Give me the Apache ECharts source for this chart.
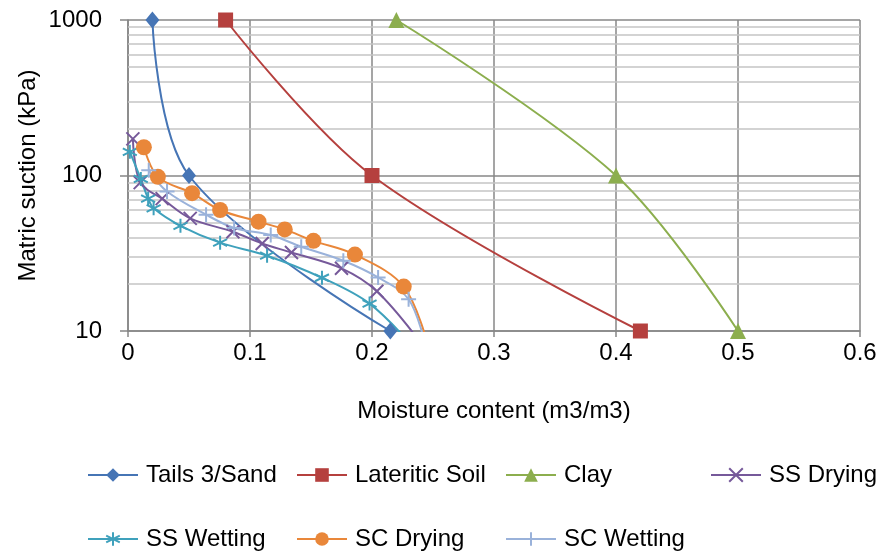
<!DOCTYPE html>
<html><head><meta charset="utf-8">
<script src="https://cdn.jsdelivr.net/npm/echarts@6/dist/echarts.min.js"></script>
<style>html,body{margin:0;padding:0;background:#fff}#c{width:881px;height:559px}</style>
</head><body><div id="c"></div><script>
// ---- data ----
const tails = [[0.02,1000],[0.05,100],[0.215,10]];
const lateritic = [[0.08,1000],[0.2,100],[0.42,10]];
const clay = [[0.22,1000],[0.4,100],[0.5,10]];
const ssDrying = [[0.004,172],[0.01,90],[0.028,71],[0.051,53],[0.086,43.5],[0.11,36.5],[0.134,32],[0.175,25.3],[0.204,18],[0.242,8]];
const ssWetting = [[0.0015,142],[0.0105,95],[0.0165,71],[0.021,61.5],[0.043,47.5],[0.0755,37],[0.114,30.5],[0.159,22],[0.198,15],[0.233,8]];
const scDrying = [[0.013,152],[0.0245,98],[0.0525,77],[0.0755,60],[0.107,50.5],[0.1285,45],[0.152,38],[0.186,31],[0.226,19.3],[0.246,8]];
const scWetting = [[0.017,108],[0.032,79],[0.064,56],[0.087,46],[0.117,41.4],[0.142,34.8],[0.1765,28.3],[0.205,22.1],[0.23,16],[0.244,8]];
const seriesNames = ['Tails 3/Sand','Lateritic Soil','Clay','SS Drying','SS Wetting','SC Drying','SC Wetting'];
const minorGridValues = [20,30,40,50,60,70,80,90,200,300,400,500,600,700,800,900];
const xMin = 0, xMax = 0.6, xStep = 0.1;
const yMin = 10, yMax = 1000;

// ---- styling ----
const FONT = '"Liberation Sans",Arial,sans-serif';
const FS = 24;
const colors = ['#4675B5','#B5403E','#8CAE4E','#76599A','#3FA1BC','#E9873A','#9AB2DA'];
const XPATH = 'path://M0,0L10,10M0,10L10,0';
const PLUS = 'path://M5,0L5,10M0,5L10,5';
const STAR = 'path://M5,0L5,10M0.67,2.5L9.33,7.5M0.67,7.5L9.33,2.5';
const datasets = [tails,lateritic,clay,ssDrying,ssWetting,scDrying,scWetting];
const symbols = ['diamond','rect','triangle',XPATH,STAR,'circle',PLUS];
const sizes = [[14,17],15,16,13,14,16,15];
const stroked = [false,false,false,true,true,false,true];

const series = datasets.map((d,i)=>({
  name: seriesNames[i], type:'line', data:d, smooth:0.35, z:3,
  symbol: symbols[i], symbolSize: sizes[i], showAllSymbol:true, clip:true,
  lineStyle:{color:colors[i], width:2},
  itemStyle: stroked[i] ? {color:colors[i], borderColor:colors[i], borderWidth:2} : {color:colors[i], borderWidth:0},
  emphasis:{disabled:true}, animation:false
}));
series.unshift({
  name:'_grid', type:'line', data:[], silent:true, z:1, animation:false,
  markLine:{silent:true, z:1, symbol:['none','none'], label:{show:false}, animation:false,
    lineStyle:{type:'solid', color:'#C4C4C4', width:1.5},
    data: minorGridValues.map(v=>({yAxis:v}))}
});

const legendPos = [[82,458],[291,458],[500,458],[705,458],[82,522],[291,522],[500,522]];
const legends = seriesNames.map((n,i)=>({
  data:[n], left:legendPos[i][0], top:legendPos[i][1], itemWidth:50, itemHeight:17, itemGap:0,
  textStyle:{fontFamily:FONT, fontSize:FS, color:'#000', padding:[0,0,0,3]}
}));

const chart = echarts.init(document.getElementById('c'), null, {renderer:'canvas'});
chart.setOption({
  animation:false,
  color: colors,
  grid:{left:128, right:21, top:20, bottom:228, containLabel:false, outerBoundsMode:'none'},
  legend: legends,
  xAxis:{type:'value', min:xMin, max:xMax, interval:xStep,
    name:'Moisture content (m3/m3)', nameLocation:'middle', nameGap:68, nameMoveOverlap:false,
    nameTextStyle:{fontFamily:FONT, fontSize:FS, color:'#000'},
    axisLine:{show:true, lineStyle:{color:'#868686', width:1.5}},
    axisTick:{show:true, length:6, lineStyle:{color:'#868686', width:1.5}},
    axisLabel:{margin:10, fontFamily:FONT, fontSize:FS, color:'#000', formatter:v=> v===0?'0':v.toFixed(1)},
    splitLine:{show:true, lineStyle:{color:'#878787', width:1.5}}
  },
  yAxis:{type:'log', logBase:10, min:yMin, max:yMax,
    name:'Matric suction (kPa)', nameLocation:'middle', nameGap:88, nameMoveOverlap:false,
    nameTextStyle:{fontFamily:FONT, fontSize:FS, color:'#000'},
    axisLine:{show:true, lineStyle:{color:'#868686', width:1.5}},
    axisTick:{show:true, length:8, lineStyle:{color:'#868686', width:1.5}},
    axisLabel:{margin:26, fontFamily:FONT, fontSize:FS, color:'#000', formatter:v=>String(Math.round(v))},
    splitLine:{show:true, lineStyle:{color:'#878787', width:1.5}}
  },
  series: series
});
</script></body></html>
